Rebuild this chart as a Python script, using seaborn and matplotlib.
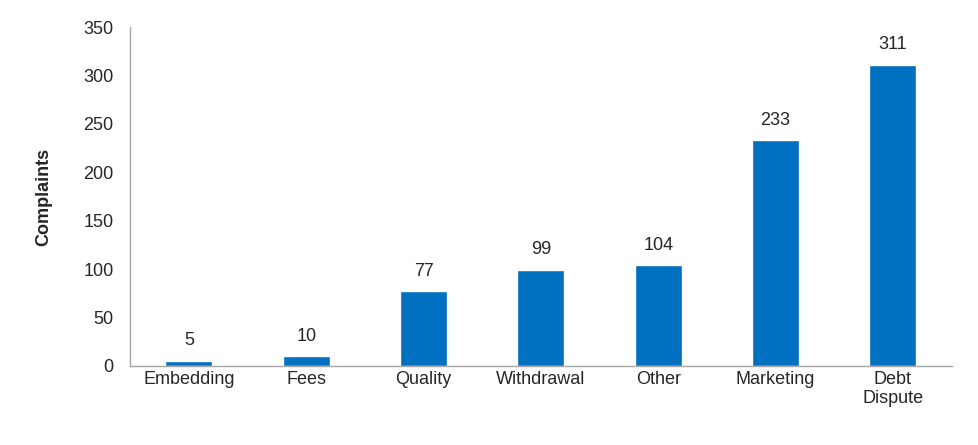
import matplotlib
matplotlib.use("Agg")
import matplotlib.pyplot as plt
import seaborn as sns
import pandas as pd

categories = ["Embedding", "Fees", "Quality", "Withdrawal", "Other", "Marketing", "Debt\nDispute"]
complaints = [5, 10, 77, 99, 104, 233, 311]

sns.set_style("white")
plt.rcParams['font.family'] = ['Liberation Sans', 'DejaVu Sans']

df = pd.DataFrame({"category": categories, "complaints": complaints})

fig = plt.figure(figsize=(9.79, 4.45), dpi=100)
ax = fig.add_axes([0.133, 0.178, 0.839, 0.761])
sns.barplot(data=df, x="category", y="complaints", color="#0070C0", width=0.4,
            saturation=1, ax=ax)

for i, v in enumerate(complaints):
    ax.text(i, v + 12, str(v), ha="center", va="bottom", fontsize=13)

ax.set_ylim(0, 350)
ax.set_yticks(range(0, 351, 50))
ax.set_xlabel("")
ax.set_ylabel("Complaints", fontsize=13, fontweight="bold", labelpad=22)
ax.tick_params(axis="both", labelsize=13, length=0)
ax.tick_params(axis="y", pad=12)
ax.set_xlim(-0.5, len(categories) - 0.5)

for side in ["top", "right"]:
    ax.spines[side].set_visible(False)
for side in ["left", "bottom"]:
    ax.spines[side].set_color("#A6A6A6")
    ax.spines[side].set_linewidth(1)

fig.savefig("out.png", dpi=100)
